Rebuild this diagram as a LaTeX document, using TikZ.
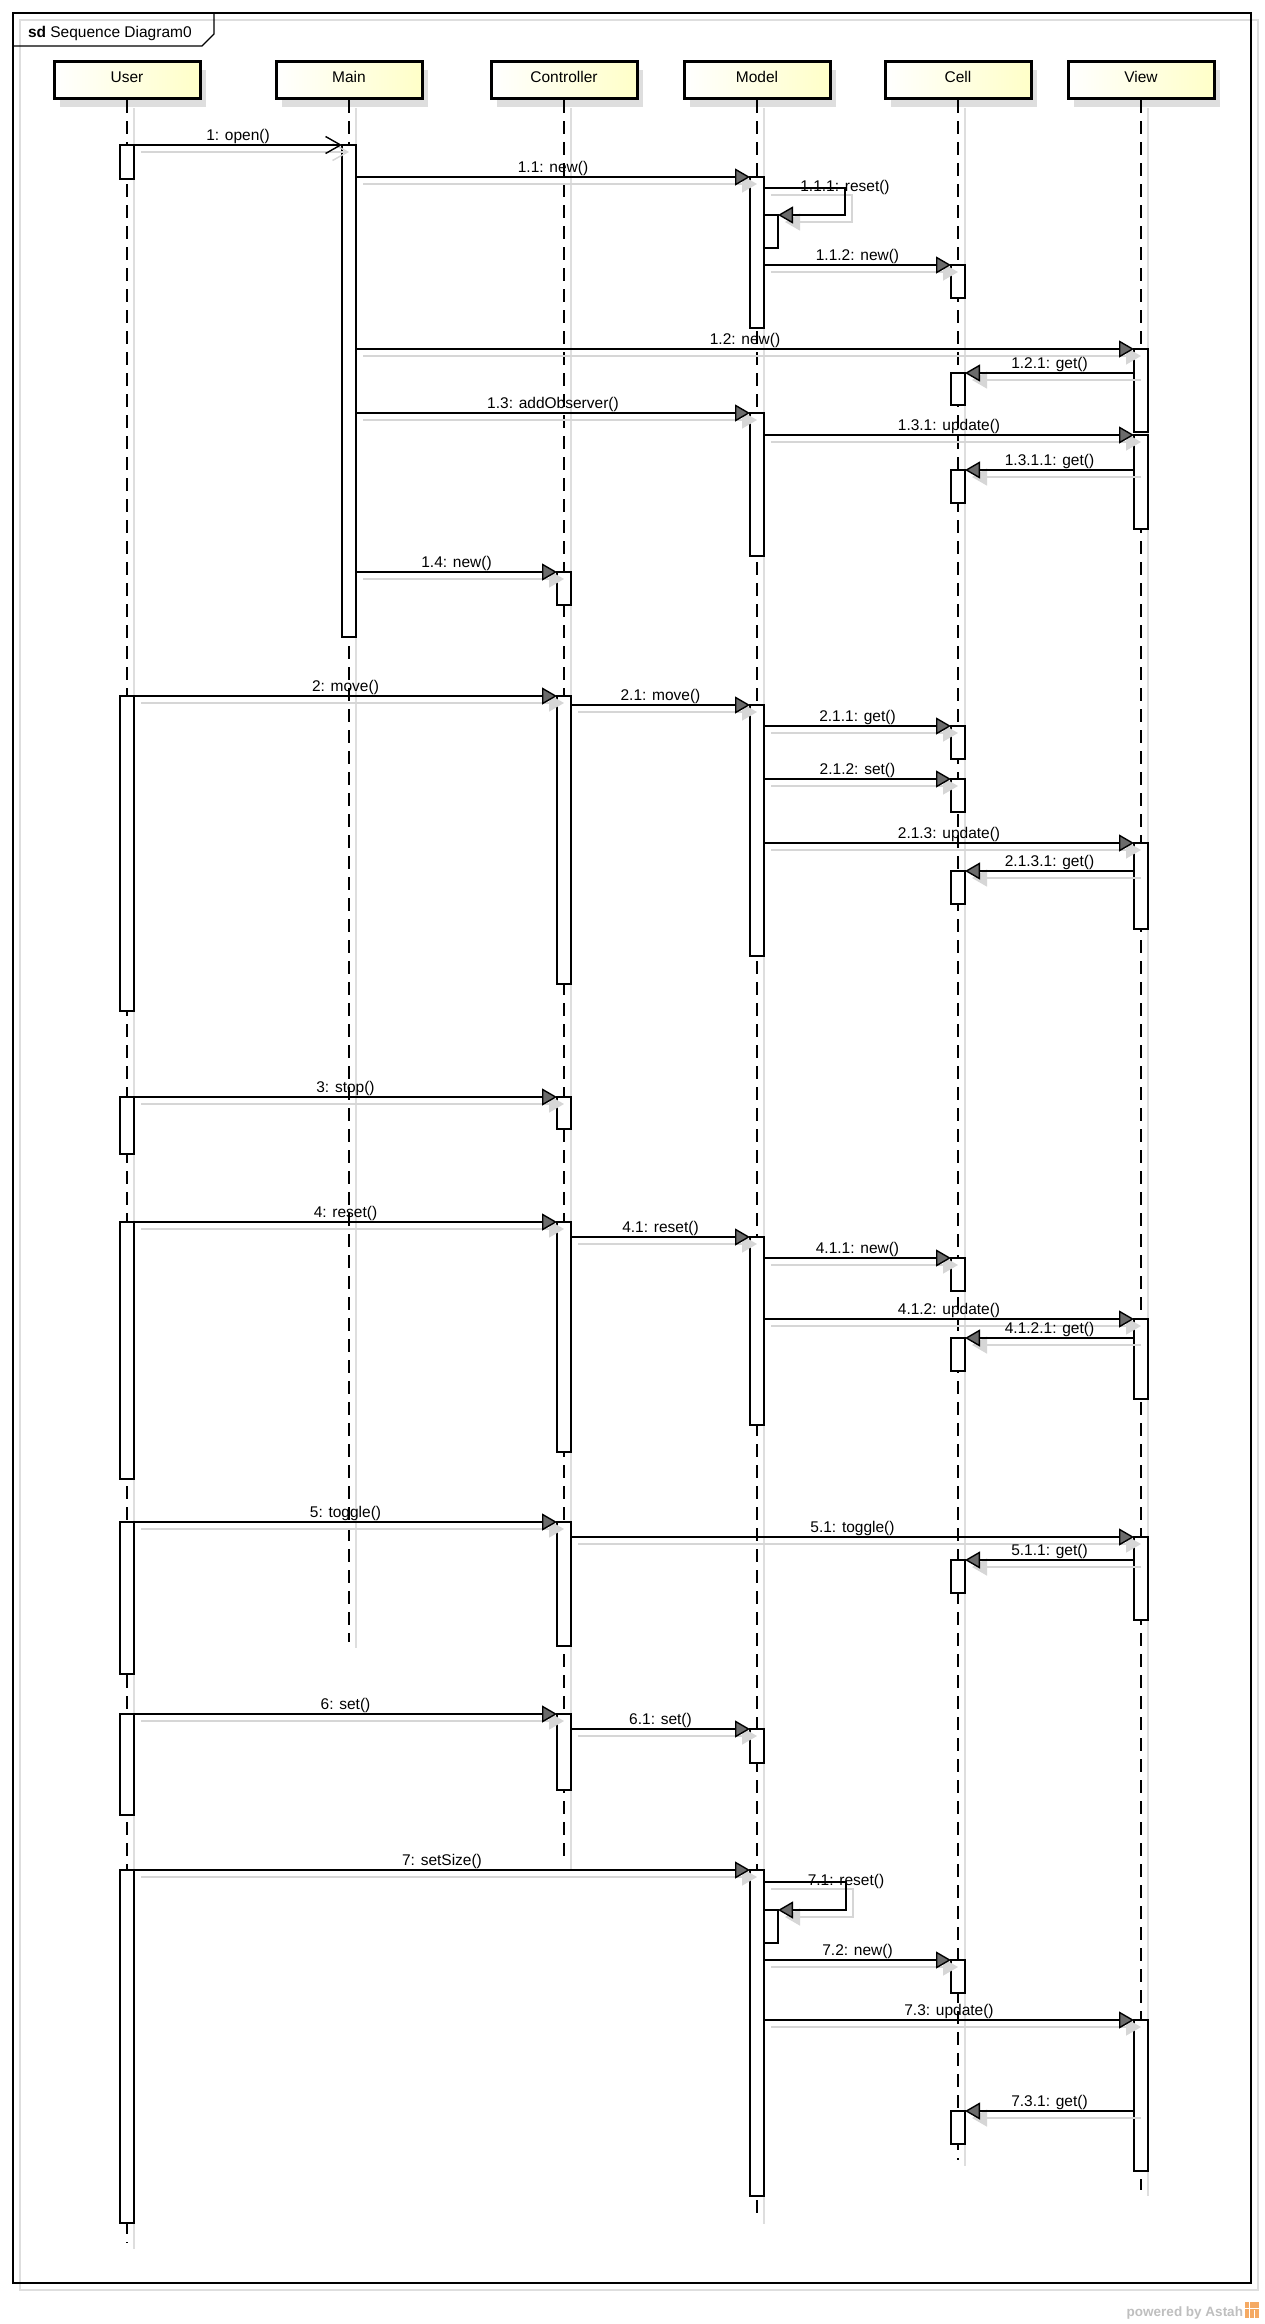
\documentclass[tikz,border=0pt]{standalone}
\usepackage{fontspec}
\setmainfont{Liberation Sans}
\usetikzlibrary{arrows.meta,shadows,calc}
\definecolor{headyel}{RGB}{255,255,200}
\definecolor{shd}{RGB}{222,222,222}
\definecolor{mshd}{RGB}{214,214,214}
\definecolor{astahor}{RGB}{245,170,100}
\tikzset{
 lbl/.style={font=\fontsize{15.5}{18}\selectfont, inner sep=0pt, outer sep=0pt},
 head/.style={draw, line width=3pt, minimum width=146pt, minimum height=37pt,
   left color=white, right color=headyel, inner sep=0pt,
   text height=11pt, text depth=7pt,
   general shadow={fill=shd, shadow xshift=6pt, shadow yshift=-8pt},
   font=\fontsize{15.5}{18}\selectfont},
 lifeline/.style={line width=1.4pt, dash pattern=on 13pt off 8pt},
 llshadow/.style={line width=1.2pt, draw=shd},
 actbarst/.style={draw, fill=white, line width=1.2pt, minimum width=14pt,
   inner sep=0pt, outer sep=0pt, anchor=north},
 msgline/.style={line width=1.4pt, -{Triangle[length=15pt,width=17pt,fill=black!58]}},
 msgshadow/.style={line width=1.4pt, draw=mshd, -{Triangle[length=15pt,width=17pt,fill=mshd]},
   transform canvas={shift={(7pt,-7pt)}}},
 openmsg/.style={line width=1.4pt, -{Straight Barb[length=15pt,width=17pt]}},
 openshadow/.style={line width=1.4pt, draw=mshd, -{Straight Barb[length=15pt,width=17pt]},
   transform canvas={shift={(7pt,-7pt)}}},
}
\newcommand\actbar[4]{\node[actbarst, minimum height={(#4-#3)*1pt}] (#1) at (#2,#3) {};}
\newcommand\msgR[3]{%
 \draw[msgshadow] (#1.east |- #2.north west) -- (#2.north west);
 \draw[msgline] (#1.east |- #2.north west) -- node[lbl, midway, anchor=base, yshift=4.5pt]{#3} (#2.north west);}
\newcommand\msgL[3]{%
 \draw[msgshadow] (#1.west |- #2.north east) -- (#2.north east);
 \draw[msgline] (#1.west |- #2.north east) -- node[lbl, midway, anchor=base, yshift=4.5pt]{#3} (#2.north east);}
\newcommand\msgS[4]{%
 \draw[msgshadow] (#1.east |- #3) -- (#3) |- (#2.north east);
 \draw[msgline] (#1.east |- #3) -- (#3) |- (#2.north east);
 \node[lbl, anchor=base, yshift=-3pt] at (#3) {#4};}
\begin{document}
\begin{tikzpicture}[x=1pt,y=-1pt]
\fill[white] (0,0) rectangle (1264,2324);
\useasboundingbox (0,0) rectangle (1264,2324);
% frame
\draw[shd, line width=1.3pt] (20,20) rectangle (1258,2290);
\draw[line width=1.3pt] (13,13) rectangle (1251,2283);
\draw[line width=1.3pt] (13,46) -- (202,46) -- (214,34) -- (214,13);
\node[lbl, anchor=base west] (title) at (28,37) {\textbf{sd} Sequence Diagram0};
% heads
\node[head] (user) at (127,80) {User};
\node[head] (main) at (349,80) {Main};
\node[head] (ctrl) at (564,80) {Controller};
\node[head] (model) at (757,80) {Model};
\node[head] (cell) at (958,80) {Cell};
\node[head] (view) at (1141,80) {View};
% lifeline ends
\coordinate (userend) at (127,2243);
\coordinate (mainend) at (349,1642);
\coordinate (ctrlend) at (564,1863);
\coordinate (modelend) at (757,2218);
\coordinate (cellend) at (958,2160);
\coordinate (viewend) at (1141,2190);
\foreach \h in {user,main,ctrl,model,cell,view}{
  \draw[llshadow] ([xshift=7pt,yshift=-8pt]\h.south) -- ([xshift=7pt,yshift=-6pt]\h end);
}
\foreach \h in {user,main,ctrl,model,cell,view}{
  \draw[lifeline] (\h.south) -- (\h end);
}
% activation bars
\actbar{uA}{127}{145}{179}
\actbar{mA}{349}{145}{637}
\actbar{moA}{757}{177}{328}
\actbar{moN1}{771}{215}{248}
\actbar{ceA}{958}{265}{298}
\actbar{viA}{1141}{349}{432}
\actbar{ceB}{958}{373}{405}
\actbar{moB}{757}{413}{556}
\actbar{viB}{1141}{435}{529}
\actbar{ceC}{958}{470}{503}
\actbar{coA}{564}{572}{605}
\actbar{uB}{127}{696}{1011}
\actbar{coB}{564}{696}{984}
\actbar{moC}{757}{705}{956}
\actbar{ceD}{958}{726}{759}
\actbar{ceE}{958}{779}{812}
\actbar{viC}{1141}{843}{929}
\actbar{ceF}{958}{871}{904}
\actbar{uC}{127}{1097}{1154}
\actbar{coC}{564}{1097}{1129}
\actbar{uD}{127}{1222}{1479}
\actbar{coD}{564}{1222}{1452}
\actbar{moD}{757}{1237}{1425}
\actbar{ceG}{958}{1258}{1291}
\actbar{viD}{1141}{1319}{1399}
\actbar{ceH}{958}{1338}{1371}
\actbar{uE}{127}{1522}{1674}
\actbar{coE}{564}{1522}{1646}
\actbar{viE}{1141}{1537}{1620}
\actbar{ceI}{958}{1560}{1593}
\actbar{uF}{127}{1714}{1815}
\actbar{coF}{564}{1714}{1790}
\actbar{moE}{757}{1729}{1763}
\actbar{uG}{127}{1870}{2223}
\actbar{moF}{757}{1870}{2196}
\actbar{moN2}{771}{1910}{1943}
\actbar{ceJ}{958}{1960}{1993}
\actbar{viF}{1141}{2020}{2171}
\actbar{ceK}{958}{2111}{2144}
% self-call corners
\coordinate (L1) at (845,188);
\coordinate (L2) at (846,1882);
% messages
\draw[openshadow] (uA.east |- mA.north west) -- (mA.north west);
\draw[openmsg] (uA.east |- mA.north west) -- node[lbl, midway, anchor=base, yshift=4.5pt]{1: open()} (mA.north west);
\msgR{mA}{moA}{1.1: new()}
\msgS{moA}{moN1}{L1}{1.1.1: reset()}
\msgR{moA}{ceA}{1.1.2: new()}
\msgR{mA}{viA}{1.2: new()}
\msgL{viA}{ceB}{1.2.1: get()}
\msgR{mA}{moB}{1.3: addObserver()}
\msgR{moB}{viB}{1.3.1: update()}
\msgL{viB}{ceC}{1.3.1.1: get()}
\msgR{mA}{coA}{1.4: new()}
\msgR{uB}{coB}{2: move()}
\msgR{coB}{moC}{2.1: move()}
\msgR{moC}{ceD}{2.1.1: get()}
\msgR{moC}{ceE}{2.1.2: set()}
\msgR{moC}{viC}{2.1.3: update()}
\msgL{viC}{ceF}{2.1.3.1: get()}
\msgR{uC}{coC}{3: stop()}
\msgR{uD}{coD}{4: reset()}
\msgR{coD}{moD}{4.1: reset()}
\msgR{moD}{ceG}{4.1.1: new()}
\msgR{moD}{viD}{4.1.2: update()}
\msgL{viD}{ceH}{4.1.2.1: get()}
\msgR{uE}{coE}{5: toggle()}
\msgR{coE}{viE}{5.1: toggle()}
\msgL{viE}{ceI}{5.1.1: get()}
\msgR{uF}{coF}{6: set()}
\msgR{coF}{moE}{6.1: set()}
\msgR{uG}{moF}{7: setSize()}
\msgS{moF}{moN2}{L2}{7.1: reset()}
\msgR{moF}{ceJ}{7.2: new()}
\msgR{moF}{viF}{7.3: update()}
\msgL{viF}{ceK}{7.3.1: get()}
% watermark
\node[lbl, anchor=base east, text=black!25, font=\bfseries\fontsize{13.5}{15}\selectfont] (wm) at (1243,2316) {powered by Astah};
\fill[astahor] (1245,2302) rectangle (1259,2318);
\draw[white, line width=1pt] (1249,2302) -- (1249,2318) (1245,2308) -- (1259,2308) (1254,2310) -- (1254,2318);
\end{tikzpicture}
\end{document}
